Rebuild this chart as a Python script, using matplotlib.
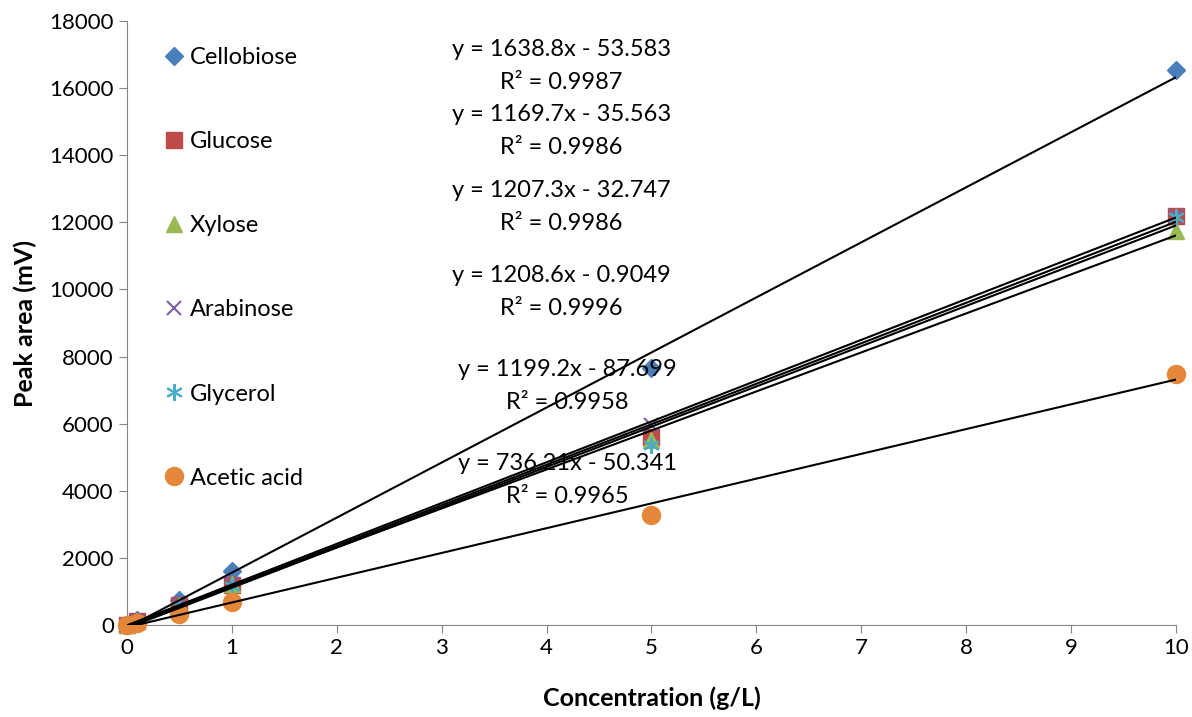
import numpy as np
import matplotlib.pyplot as plt

# ------------------------------------------------------------
# Data
# ------------------------------------------------------------
conc = [0, 0.1, 0.5, 1, 5, 10]

cellobiose = [0, 160, 760, 1620, 7660, 16550]
glucose = [0, 120, 600, 1200, 5600, 12200]
xylose = [0, 120, 610, 1230, 5500, 11750]
arabinose = [0, 120, 610, 1230, 5950, 12200]
glycerol = [0, 110, 580, 1150, 5370, 12170]
acetic = [0, 70, 330, 680, 3290, 7480]

names = ["Cellobiose", "Glucose", "Xylose", "Arabinose", "Glycerol", "Acetic acid"]
series = [cellobiose, glucose, xylose, arabinose, glycerol, acetic]

equations = ["y = 1638.8x - 53.583", "y = 1169.7x - 35.563", "y = 1207.3x - 32.747",
             "y = 1208.6x - 0.9049", "y = 1199.2x - 87.699", "y = 736.21x - 50.341"]
r_squared = ["R² = 0.9987", "R² = 0.9986", "R² = 0.9986",
             "R² = 0.9996", "R² = 0.9958", "R² = 0.9965"]

# ------------------------------------------------------------
# Styles
# ------------------------------------------------------------
colors = ["#4A7EBB", "#BE4B48", "#98B954", "#7D60A0", "#4BACC6", "#E5873A"]
markers = ["D", "s", "^", "x", (6, 2, 0), "o"]
msizes = [9, 11, 11, 10, 12, 13]

plt.rcParams["font.family"] = ["Lato", "DejaVu Sans"]

fig = plt.figure(figsize=(11.92, 7.17), dpi=100)
ax = fig.add_axes([0.1065, 0.1283, 0.8801, 0.8424])

for ys, name, c, m, s in zip(series, names, colors, markers, msizes):
    if m in ("x", (6, 2, 0)):
        ax.plot(conc, ys, linestyle="none", marker=m, markersize=s,
                markeredgecolor=c, markeredgewidth=1.5, color=c,
                label=name, zorder=3, clip_on=False)
    else:
        ax.plot(conc, ys, linestyle="none", marker=m, markersize=s,
                color=c, markeredgecolor=c, label=name, zorder=3, clip_on=False)

# linear trendlines
xs = np.array([0, 10])
for ys in series:
    k, b = np.polyfit(conc, ys, 1)
    ax.plot(xs, k * xs + b, color="black", linewidth=1.5, zorder=4,
            solid_capstyle="butt")

# equation labels
eq_y = [17150, 15220, 12950, 10420, 7600, 4800]
eq_x = [4.14, 4.14, 4.14, 4.14, 4.20, 4.20]
for ex, ey, eq, r2 in zip(eq_x, eq_y, equations, r_squared):
    ax.text(ex, ey, eq, ha="center", va="center", fontsize=17, zorder=5)
    ax.text(ex, ey - 983, r2, ha="center", va="center", fontsize=17, zorder=5)

ax.set_xlim(0, 10)
ax.set_ylim(0, 18000)
ax.set_xticks(range(0, 11))
ax.set_yticks(range(0, 18001, 2000))

ax.spines["top"].set_visible(False)
ax.spines["right"].set_visible(False)
ax.spines["left"].set_color("#868686")
ax.spines["bottom"].set_color("#868686")
ax.tick_params(axis="both", colors="#868686", labelcolor="black",
               labelsize=16, length=6, direction="out")

ax.set_xlabel("Concentration (g/L)", fontsize=18, fontweight="bold", labelpad=20)
ax.set_ylabel("Peak area (mV)", fontsize=18, fontweight="bold", labelpad=9)

ax.legend(loc="upper left", bbox_to_anchor=(0.026, 0.972), frameon=False,
          fontsize=17, labelspacing=2.67, handlelength=0.9,
          handletextpad=0.2, borderaxespad=0)

fig.savefig("out.png", dpi=100)
